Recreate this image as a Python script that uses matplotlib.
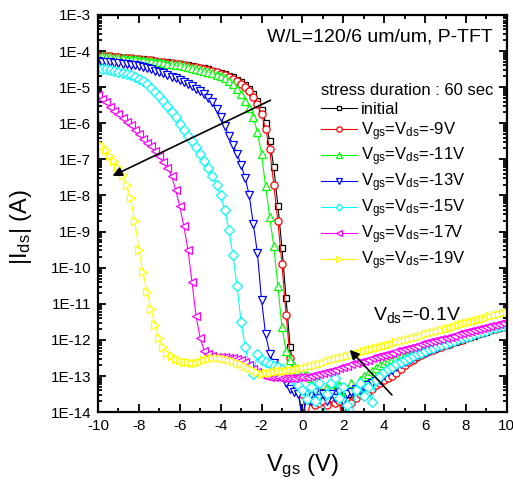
import matplotlib
matplotlib.use('Agg')
import matplotlib.pyplot as plt
import numpy as np
from matplotlib.ticker import FuncFormatter, LogLocator, MultipleLocator

plt.rcParams['font.family'] = ['Liberation Sans', 'DejaVu Sans']
plt.rcParams['mathtext.fontset'] = 'custom'
plt.rcParams['mathtext.rm'] = 'Liberation Sans'
plt.rcParams['mathtext.it'] = 'Liberation Sans'
plt.rcParams['axes.unicode_minus'] = False

# Vgs sweep, -10 V .. 10 V, 0.2 V step
vgs = np.linspace(-10, 10, 101)

# log10(|Ids|), one row = 2 V
log_initial = [
    -4.13, -4.14, -4.14, -4.15, -4.16, -4.17, -4.18, -4.19, -4.20, -4.21,
    -4.22, -4.23, -4.25, -4.26, -4.27, -4.29, -4.30, -4.31, -4.33, -4.35,
    -4.36, -4.38, -4.40, -4.42, -4.44, -4.46, -4.48, -4.51, -4.54, -4.57,
    -4.60, -4.64, -4.68, -4.73, -4.79, -4.86, -4.95, -5.05, -5.18, -5.37,
    -5.62, -5.98, -6.48, -7.22, -8.28, -9.45, -10.85, -12.2, -12.95, -13.4,
    -14.2, -13.6, -13.5, -13.7, -13.6, -13.45, -13.7, -13.55, -13.6, -13.5,
    -14.3, -13.6, -13.5, -13.55, -13.45, -13.4, -13.3, -13.25, -13.2, -13.1,
    -12.95, -12.87, -12.8, -12.72, -12.65, -12.58, -12.52, -12.46, -12.41, -12.36,
    -12.31, -12.27, -12.24, -12.2, -12.17, -12.13, -12.09, -12.06, -12.02, -11.99,
    -11.95, -11.91, -11.88, -11.84, -11.81, -11.77, -11.73, -11.7, -11.66, -11.63,
    -11.59]
log_9v = [
    -4.13, -4.14, -4.15, -4.15, -4.16, -4.17, -4.18, -4.19, -4.20, -4.21,
    -4.22, -4.24, -4.25, -4.26, -4.28, -4.29, -4.30, -4.32, -4.33, -4.35,
    -4.37, -4.39, -4.41, -4.43, -4.45, -4.47, -4.50, -4.53, -4.56, -4.59,
    -4.63, -4.67, -4.71, -4.77, -4.83, -4.91, -5.00, -5.11, -5.26, -5.47,
    -5.75, -6.15, -6.72, -7.7, -8.72, -9.9, -11.3, -12.5, -13.05, -13.3,
    -13.5, -14.2, -13.7, -13.8, -13.75, -13.7, -13.8, -13.6, -13.75, -13.7,
    -14.3, -13.7, -13.75, -13.6, -13.5, -13.55, -13.45, -13.35, -13.25, -13.2,
    -13.1, -13.05, -13.0, -12.92, -12.8, -12.7, -12.62, -12.55, -12.48, -12.42,
    -12.37, -12.32, -12.27, -12.23, -12.19, -12.15, -12.11, -12.07, -12.03, -11.99,
    -11.95, -11.91, -11.87, -11.84, -11.8, -11.76, -11.73, -11.69, -11.66, -11.63,
    -11.6]
log_11v = [
    -4.14, -4.15, -4.16, -4.17, -4.18, -4.19, -4.20, -4.21, -4.22, -4.23,
    -4.24, -4.25, -4.27, -4.28, -4.30, -4.31, -4.33, -4.35, -4.36, -4.38,
    -4.40, -4.42, -4.44, -4.47, -4.49, -4.52, -4.55, -4.58, -4.62, -4.66,
    -4.70, -4.75, -4.82, -4.92, -5.05, -5.20, -5.38, -5.58, -5.83, -6.25,
    -6.85, -7.75, -8.6, -9.4, -10.5, -11.65, -12.3, -12.55, -12.72, -12.82,
    -12.9, -12.98, -13.05, -13.1, -13.15, -13.5, -13.3, -13.2, -13.4, -13.25,
    -13.6, -13.35, -13.2, -13.4, -13.1, -13.0, -12.95, -12.85, -12.78, -12.7,
    -12.63, -12.58, -12.53, -12.48, -12.43, -12.39, -12.35, -12.31, -12.27, -12.23,
    -12.2, -12.16, -12.13, -12.09, -12.06, -12.03, -11.99, -11.96, -11.93, -11.89,
    -11.86, -11.83, -11.79, -11.76, -11.73, -11.69, -11.66, -11.63, -11.6, -11.57,
    -11.54]
log_13v = [
    -4.28, -4.29, -4.30, -4.31, -4.32, -4.34, -4.35, -4.37, -4.38, -4.40,
    -4.42, -4.44, -4.47, -4.50, -4.54, -4.58, -4.62, -4.66, -4.71, -4.76,
    -4.81, -4.86, -4.92, -4.98, -5.05, -5.12, -5.2, -5.3, -5.42, -5.6,
    -5.82, -6.08, -6.35, -6.6, -6.85, -7.15, -7.52, -8.0, -8.8, -9.6,
    -10.9, -11.85, -12.38, -12.65, -12.85, -13.0, -13.2, -13.35, -13.45, -13.5,
    -14.2, -13.5, -13.7, -13.45, -13.6, -13.5, -13.7, -13.5, -13.6, -13.45,
    -13.7, -13.5, -13.45, -13.35, -13.4, -13.3, -13.25, -13.2, -13.15, -13.1,
    -12.98, -12.9, -12.82, -12.75, -12.68, -12.62, -12.56, -12.5, -12.45, -12.4,
    -12.35, -12.3, -12.26, -12.22, -12.18, -12.14, -12.1, -12.06, -12.02, -11.98,
    -11.94, -11.9, -11.86, -11.82, -11.78, -11.75, -11.71, -11.68, -11.65, -11.62,
    -11.59]
log_15v = [
    -4.47, -4.49, -4.51, -4.53, -4.56, -4.58, -4.61, -4.64, -4.67, -4.71,
    -4.78, -4.84, -4.92, -5.02, -5.13, -5.25, -5.38, -5.53, -5.68, -5.84,
    -6.02, -6.18, -6.34, -6.5, -6.66, -6.84, -7.04, -7.24, -7.45, -7.7,
    -8.0, -8.4, -8.95, -9.65, -10.5, -11.5, -12.2, -12.7, -12.95, -12.4,
    -12.55, -12.62, -12.68, -12.72, -12.76, -12.8, -12.9, -13.0, -13.1, -13.25,
    -13.4, -13.65, -13.3, -13.7, -13.2, -14.3, -13.5, -13.2, -13.05, -13.6,
    -13.3, -13.8, -14.3, -13.4, -13.2, -13.55, -13.3, -13.72, -13.1, -13.0,
    -12.9, -12.8, -12.75, -12.68, -12.62, -12.56, -12.5, -12.45, -12.4, -12.35,
    -12.3, -12.26, -12.22, -12.18, -12.14, -12.1, -12.06, -12.02, -11.98, -11.95,
    -11.91, -11.88, -11.84, -11.81, -11.77, -11.74, -11.7, -11.67, -11.64, -11.61,
    -11.58]
log_17v = [
    -5.22, -5.32, -5.42, -5.55, -5.66, -5.75, -5.85, -5.96, -6.06, -6.18,
    -6.3, -6.43, -6.54, -6.64, -6.76, -6.9, -7.08, -7.25, -7.45, -7.85,
    -8.3, -8.85, -9.5, -10.4, -11.35, -11.95, -12.3, -12.4, -12.45, -12.47,
    -12.48, -12.48, -12.5, -12.5, -12.52, -12.55, -12.6, -12.7, -12.8, -12.9,
    -12.97, -13.0, -13.02, -13.03, -13.04, -13.05, -13.05, -13.05, -13.05, -13.04,
    -13.03, -13.02, -13.0, -12.98, -12.95, -12.92, -12.88, -12.85, -12.82, -12.78,
    -12.75, -12.72, -12.68, -12.65, -12.61, -12.58, -12.55, -12.51, -12.48, -12.45,
    -12.42, -12.38, -12.35, -12.32, -12.28, -12.25, -12.22, -12.19, -12.16, -12.12,
    -12.09, -12.06, -12.03, -12.0, -11.97, -11.94, -11.91, -11.88, -11.85, -11.82,
    -11.79, -11.76, -11.73, -11.7, -11.67, -11.64, -11.61, -11.58, -11.55, -11.52,
    -11.49]
log_19v = [
    -6.55, -6.62, -6.75, -6.9, -7.05, -7.2, -7.42, -7.72, -8.08, -8.7,
    -9.5, -10.12, -10.67, -11.15, -11.58, -11.95, -12.2, -12.35, -12.45, -12.52,
    -12.57, -12.6, -12.62, -12.64, -12.64, -12.6, -12.57, -12.53, -12.5, -12.5,
    -12.5, -12.52, -12.55, -12.58, -12.63, -12.68, -12.73, -12.78, -12.83, -12.9,
    -12.95, -12.93, -12.91, -12.89, -12.87, -12.86, -12.85, -12.84, -12.82, -12.8,
    -12.78, -12.75, -12.72, -12.69, -12.66, -12.63, -12.59, -12.56, -12.53, -12.5,
    -12.47, -12.44, -12.41, -12.38, -12.35, -12.32, -12.28, -12.25, -12.22, -12.19,
    -12.16, -12.13, -12.1, -12.07, -12.04, -12.01, -11.97, -11.94, -11.91, -11.88,
    -11.85, -11.82, -11.79, -11.76, -11.73, -11.7, -11.66, -11.63, -11.6, -11.57,
    -11.54, -11.51, -11.48, -11.45, -11.42, -11.39, -11.35, -11.32, -11.29, -11.26,
    -11.23]

series = [log_initial, log_9v, log_11v, log_13v, log_15v, log_17v, log_19v]
labels = ['initial',
          r'V$_{\rm gs}$=V$_{\rm ds}$=-9V',
          r'V$_{\rm gs}$=V$_{\rm ds}$=-11V',
          r'V$_{\rm gs}$=V$_{\rm ds}$=-13V',
          r'V$_{\rm gs}$=V$_{\rm ds}$=-15V',
          r'V$_{\rm gs}$=V$_{\rm ds}$=-17V',
          r'V$_{\rm gs}$=V$_{\rm ds}$=-19V']
colors = ['black', 'red', '#00ff00', 'blue', 'cyan', 'magenta', 'yellow']
markers = ['s', 'o', '^', 'v', 'D', '<', '>']
msizes = [4.6, 5.2, 5.8, 5.8, 4.6, 5.8, 5.8]

fig = plt.figure(figsize=(5.13, 4.82), dpi=100)
ax = fig.add_axes([0.191, 0.145, 0.797, 0.824])

for s, lab, c, m, ms in zip(series, labels, colors, markers, msizes):
    ax.plot(vgs, 10.0 ** np.array(s), color=c, lw=0.8, marker=m, ms=ms,
            mfc='white', mec=c, mew=0.9, label=lab)

ax.set_yscale('log')
ax.set_xlim(-10, 10)
ax.set_ylim(1e-14, 1e-3)

ax.xaxis.set_major_locator(MultipleLocator(2))
ax.xaxis.set_minor_locator(MultipleLocator(1))
ax.yaxis.set_major_locator(LogLocator(base=10, numticks=20))
ax.yaxis.set_minor_locator(LogLocator(base=10, subs=np.arange(2, 10), numticks=20))
ax.yaxis.set_major_formatter(FuncFormatter(lambda v, p: '1E%d' % round(np.log10(v))))
ax.yaxis.set_minor_formatter(FuncFormatter(lambda v, p: ''))

ax.tick_params(which='both', direction='in', top=True, right=True, width=1.3, labelsize=11)
ax.tick_params(which='major', length=6, pad=5)
ax.tick_params(which='minor', length=3)
for sp in ax.spines.values():
    sp.set_linewidth(1.6)

ax.set_xlabel(r'V$_{\rm gs}$ (V)', fontsize=17, labelpad=14)
ax.set_ylabel(r'|I$_{\rm ds}$| (A)', fontsize=17)
ax.yaxis.set_label_coords(-0.157, 0.465)

ax.text(0.413, 0.932, 'W/L=120/6 um/um, P-TFT', transform=ax.transAxes,
        fontsize=14, ha='left', va='baseline')
ax.text(3.45, 10 ** -11.45, r'V$_{\rm ds}$=-0.1V', fontsize=14, ha='left', va='baseline')

leg = ax.legend(title='stress duration : 60 sec', loc='upper left',
                bbox_to_anchor=(0.545, 0.828), frameon=False, fontsize=12,
                title_fontsize=12, numpoints=1, handlelength=2.2, handletextpad=0.2,
                labelspacing=0.2, borderpad=0, borderaxespad=0, alignment='left',
                markerscale=0.75)

# arrows showing the shift with stress
ax.annotate('', xy=(-9.41, 10 ** -7.49), xytext=(-1.44, 10 ** -5.33),
            arrowprops=dict(arrowstyle='-|>', color='black', lw=1.2, mutation_scale=14))
ax.annotate('', xy=(2.22, 10 ** -12.22), xytext=(4.47, 10 ** -13.58),
            arrowprops=dict(arrowstyle='-|>', color='black', lw=1.2, mutation_scale=14))

fig.savefig('out.png', dpi=100)
